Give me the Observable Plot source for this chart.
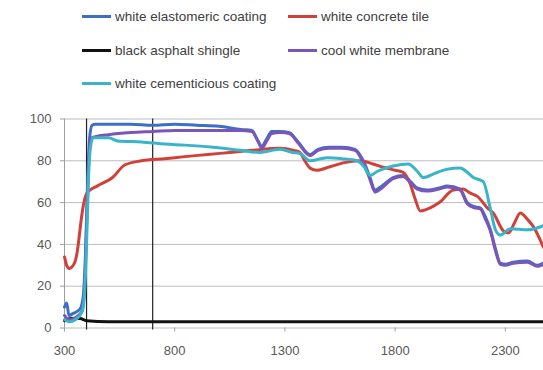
<!DOCTYPE html>
<html>
<head>
<meta charset="utf-8">
<script src="https://cdn.jsdelivr.net/npm/d3@7"></script>
<script src="https://cdn.jsdelivr.net/npm/@observablehq/plot@0.6"></script>
<style>
  html, body { margin: 0; padding: 0; background: #fff; }
  #wrap { width: 543px; height: 370px; position: relative; overflow: hidden; }
  #legend { position: relative; width: 543px; height: 100px; font-family: "Liberation Sans", Arial, sans-serif; font-size: 13.5px; color: #404040; }
  .item { position: absolute; display: flex; align-items: center; white-space: nowrap; }
  .swatch { width: 29px; height: 3px; margin-right: 4px; }
  svg { display: block; }
</style>
</head>
<body>
<div id="wrap">
  <div id="legend"></div>
  <div id="chart"></div>
</div>
<script>
// ---- data ----
const seriesNames = ["white elastomeric coating", "white concrete tile", "black asphalt shingle", "cool white membrane", "white cementicious coating"];
const seriesColors = ["#3d6fc7", "#d0413a", "#111111", "#7b55b8", "#3ab4c9"];

const xTicks = [300, 800, 1300, 1800, 2300];
const yTicks = [0, 20, 40, 60, 80, 100];
const visibleBounds = [400, 700];

const elastomericNm  = [300,310,320,340,370,385,395,405,415,425,440,500,600,700,800,900,1000,1100,1150,1175,1195,1215,1240,1280,1320,1360,1414,1450,1500,1560,1618,1660,1686,1709,1740,1791,1836,1870,1900,1945,2000,2036,2095,2127,2160,2186,2210,2232,2255,2277,2300,2336,2400,2445,2473];
const elastomericVal = [10,12,6,7,9,15,35,70,92,97,97.5,97.5,97.5,97,97.5,97,96.5,95,94.5,90,87,90,94,94,93.5,89,83,85.5,86.5,86.5,85.5,79,72,66,68,72,73,70,67,66,67,68,66.5,60,58,57.5,53,47,38,31,30.5,31.5,32,30,31];

const concreteNm  = [300,310,322,345,360,368,380,390,405,450,518,573,650,755,845,950,1050,1150,1277,1340,1368,1390,1414,1445,1500,1564,1641,1700,1745,1800,1836,1868,1890,1914,1959,2000,2064,2109,2141,2173,2218,2245,2291,2314,2340,2368,2400,2427,2450,2473];
const concreteVal = [34,30,28.5,31,38,45,55,61,65,68,72,78,80,81,82,83,84,85,86,85,84,80,76.5,75.5,77,79,80,78.5,77,75.5,74.5,69,62,56,57.5,60,66,66.5,64.5,63,57.5,55,46.5,45.5,50,55,52,48.5,44,38.5];

const asphaltNm  = [300,330,370,400,500,800,1000,1500,2000,2473];
const asphaltVal = [3.5,4.5,4.5,3.5,3,3,3,3,3,3];

const membraneNm  = [300,320,350,380,395,405,415,425,440,500,600,700,800,900,1000,1100,1150,1175,1195,1215,1240,1280,1320,1360,1414,1450,1500,1560,1618,1660,1686,1709,1740,1791,1836,1870,1900,1945,2000,2036,2095,2127,2160,2186,2210,2232,2255,2277,2300,2336,2400,2445,2473];
const membraneVal = [6,4,5,8,30,65,88,91,91.5,92.5,93.5,94,94.5,94.5,94.5,94.5,94,90,86,89,93,93.5,93,88.5,82.5,85,86,86,85,78,71,65,67,71.5,72.5,69.5,66.5,65.5,66.5,67.5,66,59.5,57.5,57,52,46.5,37,30.5,30,31,31.5,29.5,30.5];

const cementNm  = [300,320,350,380,390,400,410,420,430,440,500,541,650,755,845,973,1100,1186,1277,1336,1368,1414,1490,1560,1627,1660,1686,1720,1791,1859,1900,1927,1980,2036,2095,2127,2155,2200,2230,2255,2277,2323,2400,2473];
const cementVal = [4,3,4,8,15,40,75,88,91,91,91,89.5,89,88,87.5,86.5,85,84,85.5,84,83.5,80,81.5,81,80,77,73,75,77.5,78.5,75,72,74,76,76.5,74.5,72,70,58,47,44.5,47.5,47,49];

const seriesNm  = [elastomericNm, concreteNm, asphaltNm, membraneNm, cementNm];
const seriesVal = [elastomericVal, concreteVal, asphaltVal, membraneVal, cementVal];

// ---- legend ----
const legendPos = [[82, 16], [288, 16], [82, 50], [288, 50], [82, 83]];
const legend = document.getElementById("legend");
seriesNames.forEach((name, i) => {
  const it = document.createElement("div");
  it.className = "item";
  it.style.left = legendPos[i][0] + "px";
  it.style.top = (legendPos[i][1] - 9) + "px";
  it.style.height = "18px";
  const sw = document.createElement("span");
  sw.className = "swatch";
  sw.style.background = seriesColors[i];
  const tx = document.createElement("span");
  tx.textContent = name;
  it.appendChild(sw); it.appendChild(tx);
  legend.appendChild(it);
});

// ---- chart ----
const rows = [];
seriesNames.forEach((name, i) => {
  seriesNm[i].forEach((x, j) => rows.push({series: name, x, y: seriesVal[i][j]}));
});
const drawOrder = [2, 0, 1, 3, 4];

const chart = Plot.plot({
  width: 543,
  height: 270,
  marginLeft: 64,
  marginRight: 0,
  marginTop: 18.5,
  marginBottom: 42.5,
  style: {fontFamily: "'Liberation Sans', Arial, sans-serif", fontSize: "13px", color: "#595959", background: "#fff"},
  x: {domain: [300, 2473]},
  y: {domain: [0, 100]},
  marks: [
    Plot.ruleY(yTicks, {stroke: "#bdbdbd", strokeWidth: 1, strokeOpacity: 1}),
    Plot.ruleX([300], {stroke: "#9e9e9e", strokeWidth: 1}),
    Plot.ruleX(visibleBounds, {y1: -1, y2: 100, stroke: "#222", strokeWidth: 1.2}),
    ...drawOrder.map(i => Plot.line(rows.filter(d => d.series === seriesNames[i]), {
      x: "x", y: "y", stroke: seriesColors[i], strokeWidth: 3, strokeLinejoin: "round", curve: "monotone-x"
    })),
    Plot.axisX({ticks: xTicks, tickFormat: d => String(d), tickSize: 4, tickPadding: 14, stroke: "#9e9e9e", fill: "#595959", label: null}),
    Plot.axisY({ticks: yTicks, tickSize: 4, tickPadding: 9, stroke: "#9e9e9e", fill: "#595959", label: null})
  ]
});
document.getElementById("chart").appendChild(chart);
</script>
</body>
</html>
